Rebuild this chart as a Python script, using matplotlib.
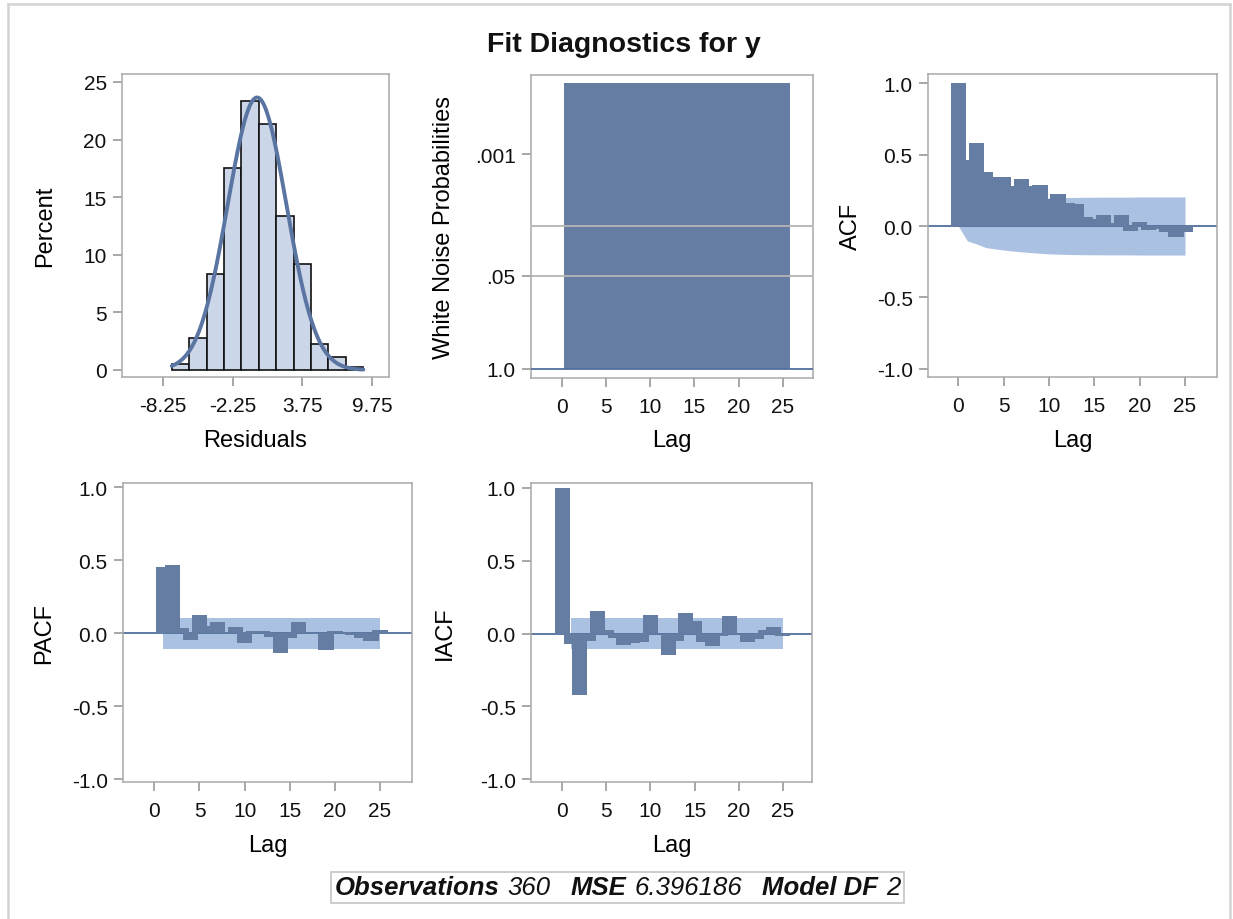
import matplotlib
matplotlib.use("Agg")
import matplotlib.pyplot as plt
import numpy as np
from matplotlib.offsetbox import TextArea, HPacker, AnchoredOffsetbox
from matplotlib.lines import Line2D

# ---------------- data ----------------
resid_mid = [-6.75, -5.25, -3.75, -2.25, -0.75, 0.75, 2.25, 3.75, 5.25, 6.75, 8.25]
resid_pct = [0.56, 2.78, 8.33, 17.50, 23.33, 21.39, 13.33, 9.17, 2.22, 1.11, 0.28]
bin_width = 1.5
resid_mean = -0.15
resid_sd = 2.53
resid_ticks = [-8.25, -2.25, 3.75, 9.75]
resid_ticklabels = ["-8.25", "-2.25", "3.75", "9.75"]

wn_lags = list(range(1, 26))
wn_prob = [0.0001, 0.0001, 0.0001, 0.0001, 0.0001, 0.0001, 0.0001, 0.0001, 0.0001, 0.0001,
           0.0001, 0.0001, 0.0001, 0.0001, 0.0001, 0.0001, 0.0001, 0.0001, 0.0001, 0.0001,
           0.0001, 0.0001, 0.0001, 0.0001, 0.0001]
wn_ticks = [1.0, 0.05, 0.001]
wn_ticklabels = ["1.0", ".05", ".001"]
wn_reflines = [0.01, 0.05]

acf_lags = list(range(0, 26))
acf = [1.0, 0.46, 0.58, 0.38, 0.345, 0.345, 0.28, 0.327, 0.28, 0.285, 0.187, 0.222, 0.164,
       0.152, 0.063, 0.05, 0.077, 0.02, 0.077, -0.035, 0.028, -0.03, -0.02, -0.04, -0.075, -0.04]
acf_band = [0.0, 0.105, 0.125, 0.150, 0.160, 0.168, 0.175, 0.181, 0.186, 0.191, 0.195, 0.197,
            0.199, 0.200, 0.201, 0.201, 0.202, 0.202, 0.202, 0.202, 0.203, 0.203, 0.203, 0.203,
            0.203, 0.203]

pacf_lags = list(range(1, 26))
pacf = [0.455, 0.465, 0.037, -0.046, 0.124, 0.05, 0.074, 0.005, 0.044, -0.069, 0.016, 0.012,
        -0.025, -0.138, -0.03, 0.08, 0.0, -0.005, -0.117, 0.012, 0.01, -0.01, -0.035, -0.053, 0.025]
pacf_band_lags = [1, 25]
pacf_band = [0.105, 0.105]

iacf_lags = list(range(0, 26))
iacf = [1.0, -0.069, -0.425, -0.053, 0.154, 0.021, -0.03, -0.076, -0.064, -0.06, 0.126, 0.0,
        -0.147, -0.048, 0.138, 0.085, -0.055, -0.087, -0.02, 0.12, 0.0, -0.055, -0.04, 0.025,
        0.044, -0.015]
iacf_band_lags = [1, 25]
iacf_band = [0.105, 0.105]

lag_ticks = [0, 5, 10, 15, 20, 25]
corr_ticks = [-1.0, -0.5, 0.0, 0.5, 1.0]
corr_ticklabels = ["-1.0", "-0.5", "0.0", "0.5", "1.0"]

title = "Fit Diagnostics for y"
footer = [("Observations", True), ("360", False), ("MSE", True), ("6.396186", False),
          ("Model DF", True), ("2", False)]

# ---------------- style ----------------
plt.rcParams['font.family'] = ['Liberation Sans', 'DejaVu Sans']
W, H = 1233, 920
BAR = '#657da3'
BAND = '#abc1e2'
HISTFILL = '#cbd6e8'
CURVE = '#5a75a2'
ZERO = '#52709c'
FRAME = '#a8a8a8'
TICKFS = 15
LABFS = 17

fig = plt.figure(figsize=(W / 100, H / 100), dpi=100)
fig.patch.set_facecolor('white')


def add_ax(l, r, t, b):
    ax = fig.add_axes([l / W, 1 - b / H, (r - l) / W, (b - t) / H])
    ax._px = (l, r, t, b)
    return ax


def style(ax):
    for s in ax.spines.values():
        s.set_color(FRAME)
        s.set_linewidth(1.1)
    ax.tick_params(axis='both', which='major', direction='out', length=6.5, width=1.1,
                   color='#909090', labelsize=TICKFS, labelcolor='#111111')
    ax.tick_params(axis='x', pad=7.5)
    ax.tick_params(axis='y', pad=4.5)
    ax.tick_params(which='minor', length=0)


def place_labels(ax, xlab, ylab, xlab_base_px, ylab_center_px):
    l, r, t, b = ax._px
    ax.set_xlabel(xlab, fontsize=LABFS)
    ax.set_ylabel(ylab, fontsize=LABFS)
    ax.xaxis.label.set_verticalalignment('baseline')
    ax.xaxis.set_label_coords(0.5, (b - xlab_base_px) / (b - t))
    ax.yaxis.label.set_verticalalignment('center')
    ax.yaxis.set_label_coords((ylab_center_px - l) / (r - l), 0.5)


# Histogram
ax1 = add_ax(122, 389, 75, 378)
style(ax1)
ax1.bar(resid_mid, resid_pct, width=bin_width, color=HISTFILL, edgecolor='#111111',
        linewidth=1.2, zorder=2)
xs = np.linspace(resid_mid[0] - bin_width / 2, resid_mid[-1] + bin_width / 2, 300)
dens = 100 * bin_width * np.exp(-0.5 * ((xs - resid_mean) / resid_sd) ** 2) / (resid_sd * np.sqrt(2 * np.pi))
ax1.plot(xs, dens, color=CURVE, lw=2.8, zorder=3, solid_capstyle='round')
ax1.set_xlim(-11.78, 11.21)
ax1.set_ylim(-0.61, 25.69)
ax1.set_xticks(resid_ticks)
ax1.set_xticklabels(resid_ticklabels)
ax1.set_yticks([0, 5, 10, 15, 20, 25])
place_labels(ax1, "Residuals", "Percent", 447, 45)

# White noise
ax2 = add_ax(531, 813, 76, 379)
style(ax2)
ax2.set_yscale('log')
ax2.bar(wn_lags, [p - 1.0 for p in wn_prob], bottom=1.0, width=1.7, color=BAR, linewidth=0, zorder=2)
for r in wn_reflines:
    ax2.axhline(r, color='#b4b4b4', lw=1.3, zorder=3)
ax2.axhline(1.0, color=ZERO, lw=1.3, zorder=3)
ax2.set_ylim(1.337, 7.76e-5)
ax2.set_xlim(-3.55, 28.45)
ax2.set_yticks(wn_ticks)
ax2.set_yticklabels(wn_ticklabels)
ax2.yaxis.set_minor_locator(matplotlib.ticker.NullLocator())
ax2.set_xticks(lag_ticks)
place_labels(ax2, "Lag", "White Noise Probabilities", 447, 444)


def corr_panel(ax, lags, vals, band_lags, band, ylab, xlim, ylim, xbase, ycenter):
    style(ax)
    ax.fill_between(band_lags, [-b for b in band], band, color=BAND, linewidth=0, zorder=1)
    ax.axhline(0, color=ZERO, lw=1.3, zorder=1.5)
    ax.bar(lags, vals, width=1.7, color=BAR, linewidth=0, zorder=2)
    ax.set_xlim(*xlim)
    ax.set_ylim(*ylim)
    ax.set_xticks(lag_ticks)
    ax.set_yticks(corr_ticks)
    ax.set_yticklabels(corr_ticklabels)
    place_labels(ax, "Lag", ylab, xbase, ycenter)


ax3 = add_ax(928, 1217, 75, 378)
corr_panel(ax3, acf_lags, acf, acf_lags, acf_band, "ACF", (-3.34, 28.53), (-1.056, 1.063), 447, 851)

ax4 = add_ax(123, 412, 484, 783)
corr_panel(ax4, pacf_lags, pacf, pacf_band_lags, pacf_band, "PACF", (-3.47, 28.54), (-1.02, 1.03), 852, 44)

ax5 = add_ax(531, 812, 484, 783)
corr_panel(ax5, iacf_lags, iacf, iacf_band_lags, iacf_band, "IACF", (-3.55, 28.33), (-1.02, 1.034), 852, 445)

# Title
fig.text(624 / W, 1 - 45 / H, title, ha='center', va='center', fontsize=20.5, fontweight='bold',
         color='#111111')

# Footer
FOOTFS = 18.5
groups = []
for i in range(0, len(footer), 2):
    a = TextArea(footer[i][0], textprops=dict(fontsize=FOOTFS, fontweight='bold', fontstyle='italic', color='#111111'))
    b = TextArea(footer[i + 1][0], textprops=dict(fontsize=FOOTFS, fontstyle='italic', color='#111111'))
    groups.append(HPacker(children=[a, b], sep=6, pad=0, align='baseline'))
pack = HPacker(children=groups, sep=14, pad=0, align='baseline')
box = AnchoredOffsetbox(loc='center', child=pack, pad=0.25, borderpad=0, frameon=True,
                        bbox_to_anchor=(617.5 / W, 1 - 888.5 / H), bbox_transform=fig.transFigure)
box.patch.set_edgecolor('#c8c8c8')
box.patch.set_linewidth(1.3)
box.patch.set_boxstyle('square', pad=0)
fig.add_artist(box)

# Outer border
for (x0, y0, x1, y1) in [(8, 5, 8, 925), (8, 5, 1230, 5), (1230, 5, 1230, 925)]:
    fig.add_artist(Line2D([x0 / W, x1 / W], [1 - y0 / H, 1 - y1 / H], transform=fig.transFigure,
                          color='#d4d4d4', lw=1.8))

fig.savefig("out.png", dpi=100, facecolor='white')
